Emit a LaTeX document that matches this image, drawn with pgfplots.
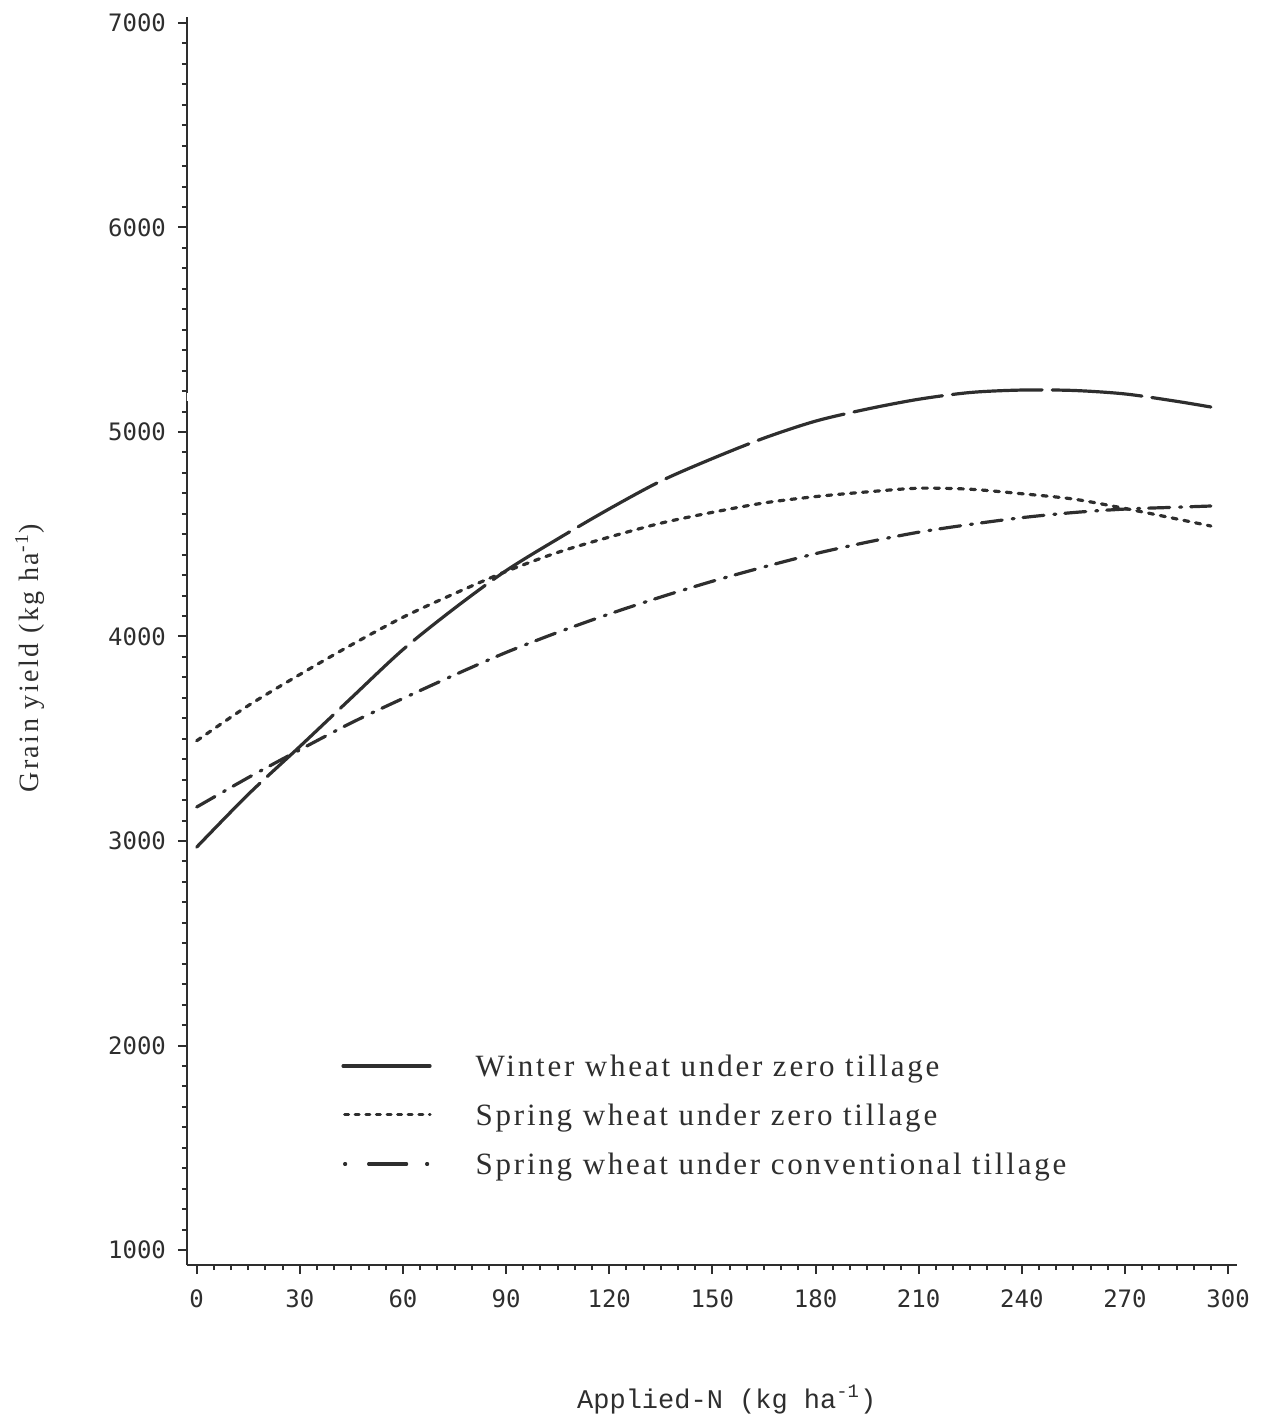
\documentclass[border=0pt]{standalone}
\usepackage{fontspec}
\usepackage{pgfplots}
\pgfplotsset{compat=1.18}
\setmainfont{Liberation Serif}
\newfontfamily\tickfont{DejaVu Sans Mono}
\newfontfamily\xlabfont{Liberation Mono}
\newfontfamily\legfont[LetterSpace=9]{Liberation Serif}
\definecolor{ink}{gray}{0.18}
\begin{document}
\begin{tikzpicture}
\begin{axis}[
  scale only axis, width=525pt, height=624pt,
  xmin=-2.82, xmax=302.6, ymin=926.7, ymax=7029.3,
  axis x line*=bottom, axis y line*=left,
  axis line style={line width=1.1pt, ink},
  xtick={0,30,...,300}, minor x tick num=5,
  ytick={1000,2000,...,7000}, minor y tick num=9,
  tick align=outside,
  major tick length=4.5pt, minor tick length=2.5pt,
  every tick/.style={ink, line width=1pt},
  tick label style={font=\tickfont\fontsize{12}{14}\selectfont, ink},
  xticklabel style={yshift=-4.5pt},
  yticklabel style={xshift=-2.5pt},
  /pgf/number format/assume math mode=true,
  /pgf/number format/1000 sep={},
  scaled ticks=false,
  xlabel={Applied-N (kg ha\textsuperscript{-1})},
  xlabel style={font=\xlabfont\fontsize{13.5}{16}\selectfont, ink, inner sep=0pt, at={(axis description cs:0.514,0)}, anchor=base, yshift=-71.5pt},
  ylabel={Grain yield (kg ha\textsuperscript{-1})},
  ylabel style={font=\legfont\fontsize{14}{16}\selectfont, ink, inner sep=0pt, at={(axis description cs:-0.1495,0.486)}, anchor=center},
  legend style={at={(axis description cs:0.1467,0.169)}, anchor=north west, draw=none, fill=none,
    font=\legfont\fontsize{15.5}{18.5}\selectfont, text=ink, inner sep=0pt, row sep=10pt,
    nodes={inner sep=0pt, text height=11pt, text depth=3.5pt},
    /tikz/every odd column/.append style={column sep=22pt}},
  legend cell align=left,
]
\addplot[ink, line width=1.6pt, line cap=round, dash pattern=on 45pt off 5pt, smooth,
  legend image code/.code={\draw[ink, line width=1.6pt, line cap=round] (0pt,1.5pt) -- (43.5pt,1.5pt);}]
  coordinates {(0,2970)(15,3228)(30,3462)(45,3700)(60,3936)(75,4138)(90,4322)(105,4477)(120,4624)(135,4760)(150,4870)(165,4970)(180,5053)(195,5112)(210,5160)(225,5193)(240,5205)(255,5203)(270,5186)(285,5150)(295,5122)};
\addlegendentry{Winter wheat under zero tillage}
\addplot[ink, line width=1.6pt, line cap=round, dash pattern=on 2.5pt off 3.5pt, smooth,
  legend image code/.code={\draw[ink, line width=1.5pt, line cap=round, dash pattern=on 2pt off 3.3pt] (0.8pt,1.5pt) -- (43.5pt,1.5pt);}]
  coordinates {(0,3490)(15,3662)(30,3814)(45,3959)(60,4094)(75,4210)(90,4318)(105,4411)(120,4486)(135,4554)(150,4607)(165,4653)(180,4684)(195,4707)(210,4725)(225,4720)(240,4698)(255,4672)(270,4626)(285,4575)(295,4540)};
\addlegendentry{Spring wheat under zero tillage}
\addplot[ink, line width=1.6pt, line cap=round, dash pattern=on 10.5pt off 5pt on 1pt off 4.5pt, smooth,
  legend image code/.code={\draw[ink, line width=1.6pt, line cap=round, dash pattern=on 0.5pt off 11.5pt on 19pt off 10pt on 0.5pt off 50pt] (0.8pt,1.5pt) -- (43.5pt,1.5pt);}]
  coordinates {(0,3166)(15,3310)(30,3446)(45,3578)(60,3697)(75,3812)(90,3922)(105,4020)(120,4110)(135,4193)(150,4270)(165,4340)(180,4405)(195,4461)(210,4510)(225,4548)(240,4581)(255,4606)(270,4623)(285,4632)(295,4638)};
\addlegendentry{Spring wheat under conventional tillage}
\draw[white, line width=5pt] (axis cs:-2.82,5150) -- (axis cs:-2.82,5193);
\end{axis}
\path ([shift={(-93.5pt,-75.5pt)}]current axis.south west) rectangle ([shift={(540pt,632.5pt)}]current axis.south west);
\end{tikzpicture}
\end{document}
